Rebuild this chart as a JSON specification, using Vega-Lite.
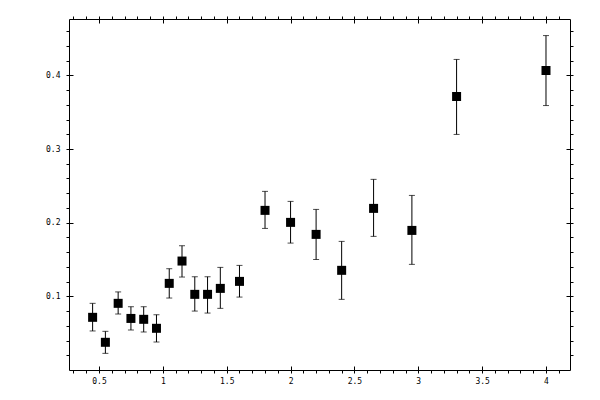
{
  "$schema": "https://vega.github.io/schema/vega-lite/v6.json",
  "autosize": "none",
  "width": 501,
  "height": 351,
  "padding": {"left": 69, "top": 19, "right": 30, "bottom": 30},
  "background": "white",
  "config": {
    "view": {"stroke": null},
    "axis": {"grid": false, "domainColor": "black", "domainWidth": 1, "tickColor": "black", "tickWidth": 1, "labelFont": "DejaVu Sans Mono", "labelFontSize": 8, "labelColor": "black", "title": null}
  },
  "data": {
    "values": [
      {"x": 0.45, "y": 0.0715, "lo": 0.053, "hi": 0.0905},
      {"x": 0.55, "y": 0.0376, "lo": 0.0226, "hi": 0.0525},
      {"x": 0.65, "y": 0.0905, "lo": 0.076, "hi": 0.106},
      {"x": 0.75, "y": 0.070, "lo": 0.0543, "hi": 0.0859},
      {"x": 0.85, "y": 0.0688, "lo": 0.0516, "hi": 0.0859},
      {"x": 0.95, "y": 0.0566, "lo": 0.038, "hi": 0.075},
      {"x": 1.05, "y": 0.1176, "lo": 0.0977, "hi": 0.1375},
      {"x": 1.15, "y": 0.1479, "lo": 0.1262, "hi": 0.1687},
      {"x": 1.25, "y": 0.1027, "lo": 0.080, "hi": 0.1266},
      {"x": 1.35, "y": 0.1027, "lo": 0.0773, "hi": 0.1266},
      {"x": 1.45, "y": 0.1108, "lo": 0.0837, "hi": 0.1393},
      {"x": 1.6, "y": 0.1203, "lo": 0.099, "hi": 0.142},
      {"x": 1.8, "y": 0.2167, "lo": 0.1922, "hi": 0.2425},
      {"x": 2.0, "y": 0.2004, "lo": 0.1723, "hi": 0.2289},
      {"x": 2.2, "y": 0.1841, "lo": 0.150, "hi": 0.218},
      {"x": 2.4, "y": 0.1353, "lo": 0.0959, "hi": 0.1746},
      {"x": 2.65, "y": 0.2194, "lo": 0.1814, "hi": 0.2588},
      {"x": 2.95, "y": 0.1895, "lo": 0.1434, "hi": 0.237},
      {"x": 3.3, "y": 0.3713, "lo": 0.3198, "hi": 0.4216},
      {"x": 4.0, "y": 0.4066, "lo": 0.359, "hi": 0.454}
    ]
  },
  "resolve": {"axis": {"x": "independent", "y": "independent"}},
  "layer": [
    {
      "mark": {"type": "rule", "color": "black", "strokeWidth": 1},
      "encoding": {
        "x": {"field": "x", "type": "quantitative", "scale": {"domain": [0.2651, 4.188], "nice": false, "zero": false},
          "axis": {"orient": "bottom", "values": [0.3,0.4,0.5,0.6,0.7,0.8,0.9,1,1.1,1.2,1.3,1.4,1.5,1.6,1.7,1.8,1.9,2,2.1,2.2,2.3,2.4,2.5,2.6,2.7,2.8,2.9,3,3.1,3.2,3.3,3.4,3.5,3.6,3.7,3.8,3.9,4,4.1],
            "format": ".1~f", "labelExpr": "indexof(['0.5','1','1.5','2','2.5','3','3.5','4'], datum.label) >= 0 ? datum.label : ''",
            "tickSize": 3, "labelPadding": 4, "labelFlush": false, "labelOverlap": false, "domain": true}},
        "y": {"field": "lo", "type": "quantitative", "scale": {"domain": [0, 0.4765], "nice": false, "zero": false},
          "axis": {"orient": "left", "values": [0.02,0.04,0.06,0.08,0.1,0.12,0.14,0.16,0.18,0.2,0.22,0.24,0.26,0.28,0.3,0.32,0.34,0.36,0.38,0.4,0.42,0.44,0.46],
            "format": ".2~f", "labelExpr": "indexof(['0.1','0.2','0.3','0.4'], datum.label) >= 0 ? datum.label : ''",
            "tickSize": 3, "labelPadding": 6, "labelFlush": false, "labelOverlap": false, "domain": true}},
        "y2": {"field": "hi"}
      }
    },
    {
      "mark": {"type": "tick", "orient": "horizontal", "color": "black", "size": 6, "thickness": 1},
      "encoding": {
        "x": {"field": "x", "type": "quantitative", "scale": {"domain": [0.2651, 4.188], "nice": false, "zero": false},
          "axis": {"orient": "bottom", "values": [0.5,1,1.5,2,2.5,3,3.5,4], "tickSize": -4, "labels": false, "domain": false}},
        "y": {"field": "lo", "type": "quantitative", "scale": {"domain": [0, 0.4765], "nice": false, "zero": false},
          "axis": {"orient": "left", "values": [0.1,0.2,0.3,0.4], "tickSize": -4, "labels": false, "domain": false}}
      }
    },
    {
      "mark": {"type": "tick", "orient": "horizontal", "color": "black", "size": 6, "thickness": 1},
      "encoding": {
        "x": {"field": "x", "type": "quantitative", "scale": {"domain": [0.2651, 4.188], "nice": false, "zero": false},
          "axis": {"orient": "top", "values": [0.3,0.4,0.5,0.6,0.7,0.8,0.9,1,1.1,1.2,1.3,1.4,1.5,1.6,1.7,1.8,1.9,2,2.1,2.2,2.3,2.4,2.5,2.6,2.7,2.8,2.9,3,3.1,3.2,3.3,3.4,3.5,3.6,3.7,3.8,3.9,4,4.1], "tickSize": 3, "labels": false, "domain": true}},
        "y": {"field": "hi", "type": "quantitative", "scale": {"domain": [0, 0.4765], "nice": false, "zero": false},
          "axis": {"orient": "right", "values": [0.02,0.04,0.06,0.08,0.1,0.12,0.14,0.16,0.18,0.2,0.22,0.24,0.26,0.28,0.3,0.32,0.34,0.36,0.38,0.4,0.42,0.44,0.46], "tickSize": 3, "labels": false, "domain": true}}
      }
    },
    {
      "mark": {"type": "point", "shape": "square", "filled": true, "color": "black", "size": 81, "opacity": 1, "strokeWidth": 0},
      "encoding": {
        "x": {"field": "x", "type": "quantitative", "scale": {"domain": [0.2651, 4.188], "nice": false, "zero": false},
          "axis": {"orient": "top", "values": [0.5,1,1.5,2,2.5,3,3.5,4], "tickSize": -4, "labels": false, "domain": false}},
        "y": {"field": "y", "type": "quantitative", "scale": {"domain": [0, 0.4765], "nice": false, "zero": false},
          "axis": {"orient": "right", "values": [0.1,0.2,0.3,0.4], "tickSize": -4, "labels": false, "domain": false}}
      }
    }
  ]
}
